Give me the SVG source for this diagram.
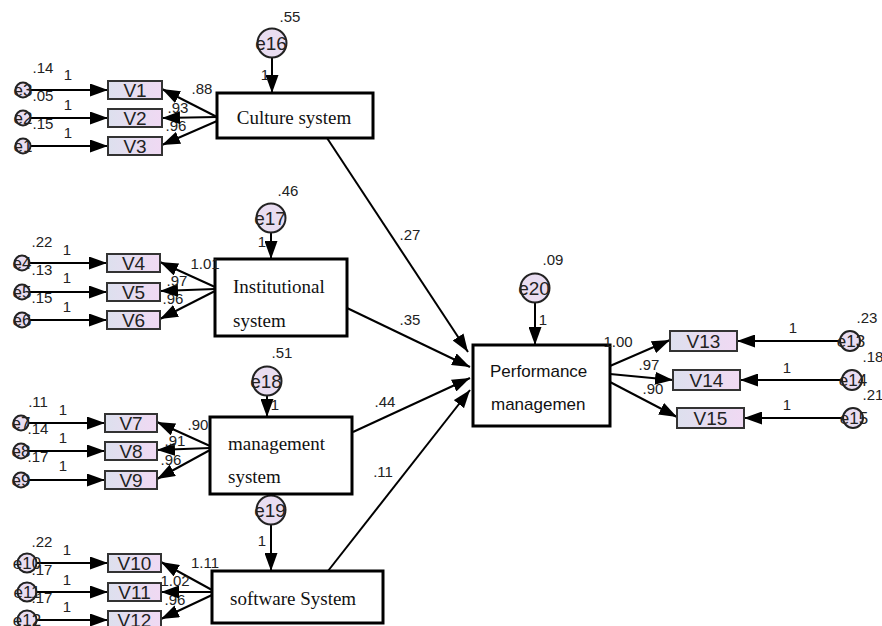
<svg xmlns="http://www.w3.org/2000/svg" width="882" height="626" viewBox="0 0 882 626">
<defs>
<linearGradient id="vg" x1="0" y1="0" x2="1" y2="0">
<stop offset="0" stop-color="#dde0ee"/>
<stop offset="1" stop-color="#f0d9f3"/>
</linearGradient>
<marker id="ah" markerUnits="userSpaceOnUse" markerWidth="18" markerHeight="13" refX="18" refY="6.5" orient="auto">
<path d="M0,0 L18,6.5 L0,13 z" fill="#000"/>
</marker>
<style>
.v rect{fill:url(#vg);stroke:#333;stroke-width:2}
.v text{font-family:"Liberation Sans",Arial,sans-serif;font-size:19px;fill:#222;text-anchor:middle}
.e circle{fill:#e9ddf1;stroke:#222;stroke-width:2}
.e text{font-family:"Liberation Sans",Arial,sans-serif;font-size:17px;fill:#222;text-anchor:middle}
.e.big text{font-size:19px}
.lat rect{fill:#fff;stroke:#000;stroke-width:3}
.lat text{font-family:"Liberation Serif","Times New Roman",serif;font-size:19px;fill:#111}
.lat text.sans{font-family:"Liberation Sans",Arial,sans-serif;font-size:17px}
.num{font-family:"Liberation Sans",Arial,sans-serif;font-size:15px;fill:#222;text-anchor:middle}
#connectors line{stroke:#000;stroke-width:2;marker-end:url(#ah)}
</style>
</defs>
<rect width="882" height="626" fill="#fff"/>

<g id="labels-hidden">
<text class="num" x="176" y="131">.96</text>
<text class="num" x="173" y="304">.96</text>
<text class="num" x="171" y="465">.96</text>
<text class="num" x="175" y="605">.96</text>
<text class="num" x="653" y="394">.90</text>
</g>

<g id="connectors">
<line x1="31" y1="90" x2="108" y2="90"/>
<line x1="31" y1="118" x2="108" y2="118"/>
<line x1="31" y1="146" x2="108" y2="146"/>
<line x1="217" y1="117" x2="162" y2="89"/>
<line x1="217" y1="117" x2="162" y2="118"/>
<line x1="217" y1="121" x2="162" y2="145"/>
<line x1="272" y1="58" x2="272" y2="93"/>

<line x1="30" y1="263" x2="107" y2="263"/>
<line x1="30" y1="292" x2="107" y2="292"/>
<line x1="30" y1="320" x2="107" y2="320"/>
<line x1="215" y1="287" x2="160" y2="262"/>
<line x1="215" y1="289" x2="160" y2="291"/>
<line x1="215" y1="291" x2="160" y2="319"/>
<line x1="271" y1="233" x2="271" y2="259"/>

<line x1="29" y1="423" x2="105" y2="423"/>
<line x1="29" y1="451" x2="105" y2="451"/>
<line x1="29" y1="480" x2="105" y2="480"/>
<line x1="210" y1="446" x2="157" y2="422"/>
<line x1="210" y1="448" x2="157" y2="450"/>
<line x1="210" y1="450" x2="157" y2="479"/>
<line x1="267" y1="396" x2="267" y2="417"/>

<line x1="36" y1="563" x2="108" y2="563"/>
<line x1="36" y1="592" x2="108" y2="592"/>
<line x1="36" y1="620" x2="108" y2="620"/>
<line x1="212" y1="590" x2="161" y2="562"/>
<line x1="212" y1="592" x2="161" y2="592"/>
<line x1="212" y1="595" x2="161" y2="619"/>
<line x1="271" y1="525" x2="271" y2="571"/>

<line x1="327" y1="138" x2="468" y2="352"/>
<line x1="347" y1="308" x2="470" y2="367"/>
<line x1="353" y1="432" x2="470" y2="378"/>
<line x1="328" y1="571" x2="470" y2="390"/>
<line x1="535" y1="303" x2="535" y2="345"/>

<line x1="610" y1="366" x2="670" y2="340"/>
<line x1="610" y1="374" x2="673" y2="380"/>
<line x1="610" y1="382" x2="677" y2="417"/>
<line x1="840" y1="341" x2="737" y2="341"/>
<line x1="842" y1="380" x2="740" y2="380"/>
<line x1="843" y1="418" x2="744" y2="418"/>
</g>

<g id="V1" class="v"><rect x="108" y="81" width="54" height="18"/><text x="135" y="97">V1</text></g>
<g id="V2" class="v"><rect x="108" y="109" width="54" height="18"/><text x="135" y="125">V2</text></g>
<g id="V3" class="v"><rect x="108" y="137" width="54" height="18"/><text x="135" y="153">V3</text></g>
<g id="V4" class="v"><rect x="107" y="254" width="53" height="18"/><text x="133.5" y="270">V4</text></g>
<g id="V5" class="v"><rect x="107" y="283" width="53" height="18"/><text x="133.5" y="299">V5</text></g>
<g id="V6" class="v"><rect x="107" y="311" width="53" height="18"/><text x="133.5" y="327">V6</text></g>
<g id="V7" class="v"><rect x="105" y="414" width="52" height="18"/><text x="131" y="430">V7</text></g>
<g id="V8" class="v"><rect x="105" y="442" width="52" height="18"/><text x="131" y="458">V8</text></g>
<g id="V9" class="v"><rect x="105" y="471" width="52" height="18"/><text x="131" y="487">V9</text></g>
<g id="V10" class="v"><rect x="108" y="554" width="53" height="18"/><text x="134.5" y="570">V10</text></g>
<g id="V11" class="v"><rect x="108" y="583" width="53" height="18"/><text x="134.5" y="599">V11</text></g>
<g id="V12" class="v"><rect x="108" y="611" width="53" height="18"/><text x="134.5" y="627">V12</text></g>
<g id="V13" class="v"><rect x="670" y="331" width="67" height="20"/><text x="703.5" y="348">V13</text></g>
<g id="V14" class="v"><rect x="673" y="370" width="67" height="20"/><text x="706.5" y="387">V14</text></g>
<g id="V15" class="v"><rect x="677" y="408" width="67" height="20"/><text x="710.5" y="425">V15</text></g>

<g id="e3" class="e"><circle cx="23" cy="90" r="7.5"/><text x="23" y="96">e3</text></g>
<g id="e2" class="e"><circle cx="23" cy="118" r="7.5"/><text x="23" y="124">e2</text></g>
<g id="e1" class="e"><circle cx="23" cy="146" r="7.5"/><text x="23" y="152">e1</text></g>
<g id="e4" class="e"><circle cx="22" cy="263" r="7.5"/><text x="22" y="269">e4</text></g>
<g id="e5" class="e"><circle cx="22" cy="292" r="7.5"/><text x="22" y="298">e5</text></g>
<g id="e6" class="e"><circle cx="22" cy="320" r="7.5"/><text x="22" y="326">e6</text></g>
<g id="e7" class="e"><circle cx="21" cy="423" r="7.5"/><text x="21" y="429">e7</text></g>
<g id="e8" class="e"><circle cx="21" cy="451" r="7.5"/><text x="21" y="457">e8</text></g>
<g id="e9" class="e"><circle cx="21" cy="480" r="7.5"/><text x="21" y="486">e9</text></g>
<g id="e10" class="e"><circle cx="27" cy="563" r="9.5"/><text x="27" y="569">e10</text></g>
<g id="e11" class="e"><circle cx="27" cy="592" r="9.5"/><text x="27" y="598">e11</text></g>
<g id="e12" class="e"><circle cx="27" cy="620" r="9.5"/><text x="27" y="626">e12</text></g>
<g id="e13" class="e"><circle cx="850" cy="341" r="10"/><text x="851" y="347">e13</text></g>
<g id="e14" class="e"><circle cx="852" cy="380" r="10"/><text x="853" y="386">e14</text></g>
<g id="e15" class="e"><circle cx="853" cy="418" r="10"/><text x="854" y="424">e15</text></g>
<g id="e16" class="e big"><circle cx="272" cy="43" r="14.5"/><text x="271" y="50">e16</text></g>
<g id="e17" class="e big"><circle cx="271" cy="218" r="14.5"/><text x="270" y="225">e17</text></g>
<g id="e18" class="e big"><circle cx="267" cy="381" r="14.5"/><text x="266" y="388">e18</text></g>
<g id="e19" class="e big"><circle cx="271" cy="510" r="14.5"/><text x="270" y="517">e19</text></g>
<g id="e20" class="e big"><circle cx="535" cy="288" r="14.5"/><text x="534" y="295">e20</text></g>

<g id="culture" class="lat"><rect x="217" y="93" width="156" height="45"/><text x="294" y="124" text-anchor="middle">Culture system</text></g>
<g id="institutional" class="lat"><rect x="215" y="259" width="132" height="77"/><text x="233" y="293">Institutional</text><text x="233" y="327">system</text></g>
<g id="management" class="lat"><rect x="210" y="417" width="142" height="77"/><text x="228" y="450">management</text><text x="228" y="483">system</text></g>
<g id="software" class="lat"><rect x="212" y="571" width="171" height="52"/><text x="230" y="605">software System</text></g>
<g id="performance" class="lat"><rect x="473" y="345" width="137" height="81"/><text class="sans" x="490" y="377">Performance</text><text class="sans" x="491" y="410">managemen</text></g>

<g id="labels">
<text class="num" x="43" y="73">.14</text>
<text class="num" x="43" y="101">.05</text>
<text class="num" x="43" y="129">.15</text>
<text class="num" x="68" y="80">1</text>
<text class="num" x="68" y="110">1</text>
<text class="num" x="68" y="138">1</text>
<text class="num" x="202" y="94">.88</text>
<text class="num" x="178" y="113">.93</text>
<text class="num" x="290" y="22">.55</text>
<text class="num" x="265" y="80">1</text>

<text class="num" x="42" y="247">.22</text>
<text class="num" x="42" y="275">.13</text>
<text class="num" x="42" y="303">.15</text>
<text class="num" x="67" y="255">1</text>
<text class="num" x="67" y="283">1</text>
<text class="num" x="67" y="312">1</text>
<text class="num" x="205" y="269">1.01</text>
<text class="num" x="177" y="286">.97</text>
<text class="num" x="288" y="196">.46</text>
<text class="num" x="262" y="247">1</text>

<text class="num" x="38" y="407">.11</text>
<text class="num" x="38" y="434">.14</text>
<text class="num" x="38" y="462">.17</text>
<text class="num" x="63" y="415">1</text>
<text class="num" x="63" y="443">1</text>
<text class="num" x="63" y="471">1</text>
<text class="num" x="198" y="430">.90</text>
<text class="num" x="175" y="446">.91</text>
<text class="num" x="282" y="358">.51</text>
<text class="num" x="275" y="410">1</text>

<text class="num" x="42" y="547">.22</text>
<text class="num" x="42" y="575">.17</text>
<text class="num" x="42" y="603">.17</text>
<text class="num" x="67" y="555">1</text>
<text class="num" x="67" y="585">1</text>
<text class="num" x="67" y="612">1</text>
<text class="num" x="205" y="568">1.11</text>
<text class="num" x="175" y="586">1.02</text>
<text class="num" x="262" y="546">1</text>

<text class="num" x="410" y="240">.27</text>
<text class="num" x="410" y="325">.35</text>
<text class="num" x="385" y="407">.44</text>
<text class="num" x="383" y="477">.11</text>

<text class="num" x="553" y="265">.09</text>
<text class="num" x="543" y="325">1</text>
<text class="num" x="618" y="347">1.00</text>
<text class="num" x="649" y="370">.97</text>
<text class="num" x="867" y="323">.23</text>
<text class="num" x="873" y="362">.18</text>
<text class="num" x="873" y="400">.21</text>
<text class="num" x="793" y="333">1</text>
<text class="num" x="787" y="373">1</text>
<text class="num" x="787" y="410">1</text>
</g>
</svg>
